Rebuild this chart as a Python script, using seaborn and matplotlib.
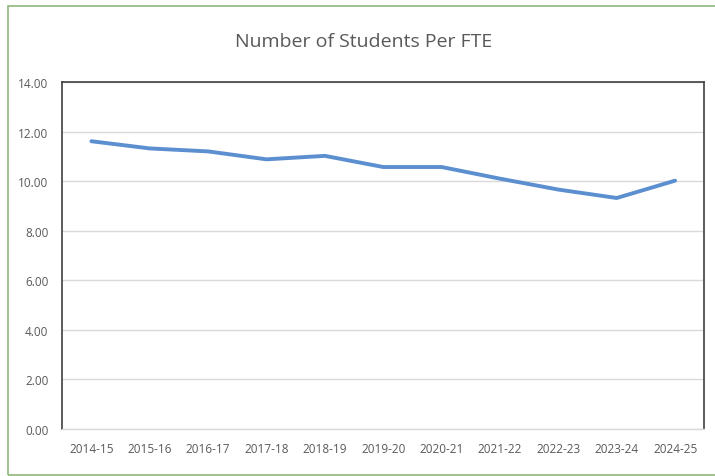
import pandas as pd
import matplotlib.pyplot as plt
import seaborn as sns
from matplotlib.patches import Rectangle

# Values
years = ["2014-15", "2015-16", "2016-17", "2017-18", "2018-19", "2019-20",
         "2020-21", "2021-22", "2022-23", "2023-24", "2024-25"]
students_per_fte = [11.61, 11.32, 11.20, 10.88, 11.02, 10.57,
                    10.57, 10.10, 9.66, 9.32, 10.02]
y_ticks = [0, 2, 4, 6, 8, 10, 12, 14]

df = pd.DataFrame({"year": years, "ratio": students_per_fte})
df["pos"] = range(len(years))

sns.set_style("white")
plt.rcParams["font.family"] = ["Open Sans", "DejaVu Sans"]

fig = plt.figure(figsize=(7.15, 4.77), dpi=100)
ax = fig.add_axes([0.087, 0.0985, 0.898, 0.7275])

sns.lineplot(data=df, x="pos", y="ratio", color="#5b8fd0", linewidth=2.8, ax=ax)

ax.set_xlim(-0.5, len(years) - 0.5)
ax.set_ylim(0, 14)
ax.set_xticks(df["pos"])
ax.set_xticklabels(years)
ax.set_yticks(y_ticks)
ax.set_yticklabels([f"{v:.2f}" for v in y_ticks])
ax.tick_params(axis="both", length=0, labelsize=8.5, colors="#595959")
ax.tick_params(axis="x", pad=9)
ax.tick_params(axis="y", pad=10)
ax.set_xlabel("")
ax.set_ylabel("")

# light horizontal gridlines
ax.grid(axis="y", color="#d9d9d9", linewidth=1)
ax.set_axisbelow(True)

for side in ["left", "top", "right"]:
    ax.spines[side].set_color("#404040")
    ax.spines[side].set_linewidth(1.2)
ax.spines["bottom"].set_color("#d9d9d9")
ax.spines["bottom"].set_linewidth(1)

fig.text(0.508, 0.912, "Number of Students Per FTE", ha="center", va="center",
         fontsize=14, color="#595959")

# green outer chart border
fig.patches.append(Rectangle((0.011, 0.003), 0.995, 0.982, transform=fig.transFigure,
                             fill=False, edgecolor="#8db87a", linewidth=1.2))

fig.savefig("out.png", dpi=100)
